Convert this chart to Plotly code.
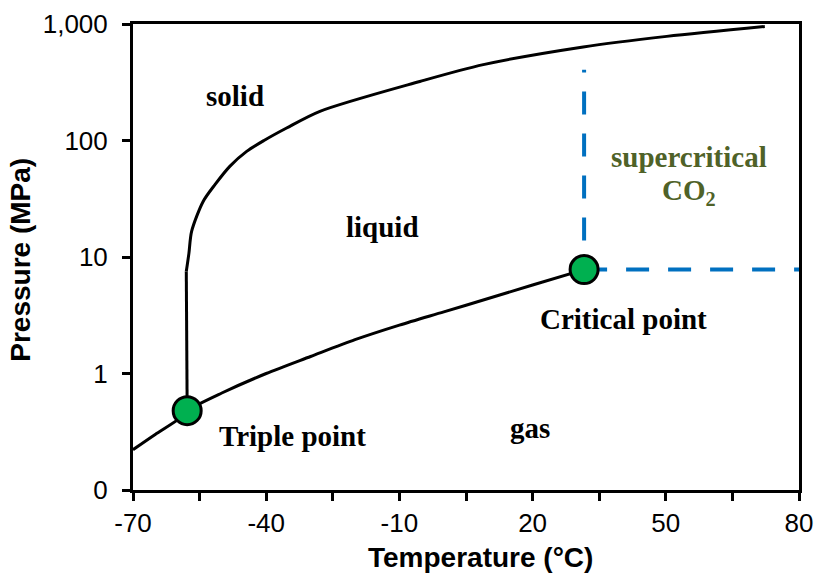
import plotly.graph_objects as go

# ---- CO2 phase diagram data (temperature in °C, pressure in MPa) ----
# solid-gas (sublimation) and liquid-gas (vaporization) boundary
vap_T = [-70, -65, -60, -57.8, -50, -40, -30, -20, -10, 0, 10, 20, 31.6]
vap_P = [0.222, 0.30, 0.40, 0.48, 0.68, 1.0, 1.40, 1.95, 2.60, 3.38, 4.4, 5.75, 7.8]

# solid-liquid (melting) boundary
melt_T = [-57.8, -58.0, -57.4, -56.8, -54.2, -51.5, -48.2, -44.4, -40.5,
          -35.4, -27.9, -5.4, 8.9, 31.4, 50.2, 72.3]
melt_P = [0.48, 7.5, 10.8, 16.6, 30, 42, 60, 80.6, 100,
          128, 178, 321, 448, 635, 783, 953]

# special points
triple_T, triple_P = -57.8, 0.48
crit_T, crit_P = 31.6, 7.8

# supercritical region guide lines
sc_top_P = 405
sc_right_T = 80

# axis ticks
x_ticks = [-70, -55, -40, -25, -10, 5, 20, 35, 50, 65, 80]
x_ticktext = ["-70", "", "-40", "", "-10", "", "20", "", "50", "", "80"]
y_ticks = [0.1, 1, 10, 100, 1000]
y_ticktext = ["0", "1", "10", "100", "1,000"]

SERIF = "Liberation Serif, Times New Roman, serif"
SANS = "Arial, Liberation Sans, sans-serif"
BLUE = "#0070C0"
GREEN = "#00B050"

fig = go.Figure()

fig.add_trace(go.Scatter(x=vap_T, y=vap_P, mode="lines",
                         line=dict(color="black", width=3, shape="spline", smoothing=0.8),
                         hoverinfo="skip"))
# vertical part of the melting line, then the smooth bend
fig.add_trace(go.Scatter(x=melt_T[:2], y=melt_P[:2], mode="lines",
                         line=dict(color="black", width=3), hoverinfo="skip"))
fig.add_trace(go.Scatter(x=melt_T[1:], y=melt_P[1:], mode="lines",
                         line=dict(color="black", width=3, shape="spline", smoothing=0.8),
                         hoverinfo="skip"))

# dashed boundaries of the supercritical region
fig.add_trace(go.Scatter(x=[crit_T, crit_T], y=[crit_P, sc_top_P], mode="lines",
                         line=dict(color=BLUE, width=4, dash="10px,19px,13px,0px"),
                         hoverinfo="skip"))
fig.add_trace(go.Scatter(x=[crit_T, sc_right_T + 1.5], y=[crit_P, crit_P], mode="lines",
                         line=dict(color=BLUE, width=4, dash="23px,19px"),
                         hoverinfo="skip"))

# triple and critical points
fig.add_trace(go.Scatter(x=[triple_T, crit_T], y=[triple_P, crit_P], mode="markers",
                         marker=dict(size=28, color=GREEN,
                                     line=dict(color="black", width=3)),
                         cliponaxis=False, hoverinfo="skip"))

labels = [
    ("solid", -47, 2.385, "black"),
    ("liquid", -13.9, 1.26, "black"),
    ("supercritical", 55.2, 1.861, "#4F6228"),
    ("CO<sub>2</sub>", 55.2, 1.56, "#4F6228"),
    ("Critical point", 40.4, 0.470, "black"),
    ("Triple point", -34, -0.534, "black"),
    ("gas", 19.4, -0.465, "black"),
]
for text, x, y, color in labels:
    fig.add_annotation(x=x, y=y, xref="x", yref="y", text="<b>%s</b>" % text,
                       showarrow=False, xanchor="center", yanchor="middle",
                       font=dict(family=SERIF, size=29, color=color))

# axis titles
fig.add_annotation(x=(480 - 133) / (799 - 133), y=-(558 - 490.3) / (490.3 - 24.3),
                   xref="paper", yref="paper", text="<b>Temperature (°C)</b>",
                   showarrow=False, xanchor="center", yanchor="middle",
                   font=dict(family=SANS, size=28, color="black"))
fig.add_annotation(x=-(133 - 21) / (799 - 133), y=(490.3 - 260) / (490.3 - 24.3),
                   xref="paper", yref="paper", text="<b>Pressure (MPa)</b>",
                   showarrow=False, xanchor="center", yanchor="middle", textangle=-90,
                   font=dict(family=SANS, size=28, color="black"))

fig.update_layout(
    width=817, height=578,
    margin=dict(l=133, r=18, t=24, b=88),
    paper_bgcolor="white", plot_bgcolor="white",
    showlegend=False,
    font=dict(family=SANS, size=26, color="black"),
)
fig.update_xaxes(
    range=[-70, 80], tickvals=x_ticks, ticktext=x_ticktext, automargin=False,
    showgrid=False, zeroline=False,
    showline=True, linewidth=3, linecolor="black", mirror=True,
    ticks="outside", ticklen=8, tickwidth=3, tickcolor="black",
    tickfont=dict(family=SANS, size=26, color="black"),
)
fig.update_yaxes(
    type="log", range=[-1, 3], tickvals=y_ticks, ticktext=y_ticktext, automargin=False,
    showgrid=False, zeroline=False,
    showline=True, linewidth=3, linecolor="black", mirror=True,
    ticks="outside", ticklen=8, tickwidth=3, tickcolor="black", ticklabelstandoff=9,
    tickfont=dict(family=SANS, size=26, color="black"),
)

fig.write_html("out.html")
